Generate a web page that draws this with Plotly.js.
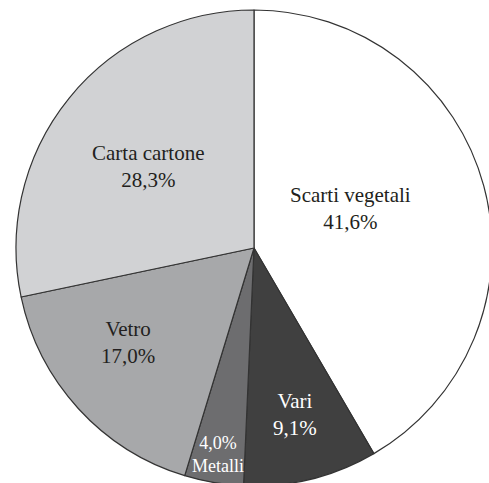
<!DOCTYPE html>
<html>
<head>
<meta charset="utf-8">
<script src="https://cdn.plot.ly/plotly-3.0.1.min.js"></script>
<style>
html,body{margin:0;padding:0;overflow:hidden;background:#fff;}
#chart{width:496px;height:496px;}
</style>
</head>
<body>
<div id="chart"></div>
<script>
const categories = ["Scarti vegetali", "Vari", "Metalli", "Vetro", "Carta cartone"];
const values = [41.6, 9.1, 4.0, 17.0, 28.3];
const sliceColors = ["#ffffff", "#404040", "#6d6d6f", "#a7a8aa", "#d1d2d4"];
const textColors = ["#231f20", "#ffffff", "#ffffff", "#231f20", "#231f20"];
const valueFirst = [false, false, true, false, false];

function fmt(v){ return v.toFixed(1).replace('.', ',') + '%'; }
const texts = categories.map((c, i) => valueFirst[i] ? fmt(values[i]) + '<br>' + c : c + '<br>' + fmt(values[i]));

const W = 496, H = 496;
const FONT = '"Liberation Serif", "Times New Roman", Times, serif';

// label anchor points (pixel layout placement of the text blocks)
const labelPx = [[350, 208], [295, 414], [218, 454], [128, 342], [148, 166]];

const trace = {
  type: 'pie',
  labels: categories,
  values: values,
  textinfo: 'none',
  hoverinfo: 'none',
  sort: false,
  direction: 'clockwise',
  rotation: 0,
  marker: {colors: sliceColors, line: {color: '#333333', width: 1.2}},
  domain: {x: [16/W, 492/W], y: [(H-486)/H, (H-10)/H]}
};
const annotations = texts.map((t, i) => ({
  text: t,
  x: labelPx[i][0] / W,
  y: 1 - labelPx[i][1] / H,
  xref: 'paper', yref: 'paper',
  xanchor: 'center', yanchor: 'middle',
  showarrow: false,
  align: 'center',
  font: {family: FONT, size: i === 2 ? 18 : 21, color: textColors[i]}
}));
Plotly.newPlot('chart', [trace], {
  width: W, height: H,
  margin: {l:0, r:0, t:0, b:0},
  showlegend: false,
  paper_bgcolor: '#ffffff',
  annotations: annotations
}, {displayModeBar: false, staticPlot: true});
</script>
</body>
</html>
